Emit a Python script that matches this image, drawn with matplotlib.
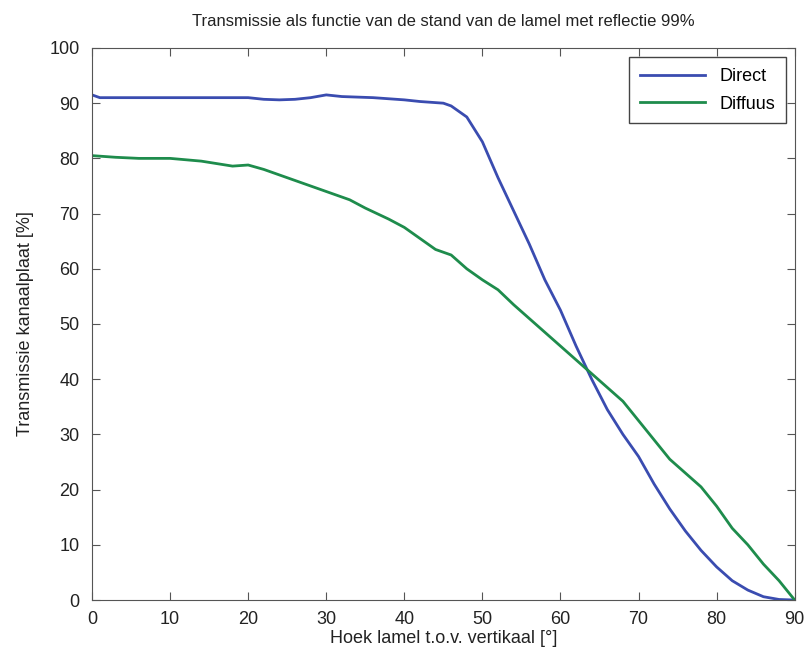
import matplotlib
matplotlib.use("Agg")
import matplotlib.pyplot as plt
import numpy as np

plt.rcParams['font.family'] = ['Liberation Sans', 'DejaVu Sans']

# hoek lamel [graden]
hoek_direct = [0, 1, 5, 10, 15, 20, 22, 24, 26, 28, 30, 32, 34, 36, 38, 40, 42, 44, 45, 46,
               48, 50, 52, 54, 56, 58, 60, 62, 64, 66, 68, 70, 72, 74, 76, 78, 80, 82, 84,
               86, 88, 90]
direct = [91.5, 91.0, 91.0, 91.0, 91.0, 91.0, 90.7, 90.6, 90.7, 91.0, 91.5, 91.2, 91.1, 91.0,
          90.8, 90.6, 90.3, 90.1, 90.0, 89.5, 87.5, 83.0, 76.5, 70.5, 64.5, 58.0, 52.5, 46.0,
          40.0, 34.5, 30.0, 26.0, 21.0, 16.5, 12.5, 9.0, 6.0, 3.5, 1.8, 0.6, 0.1, 0.0]

hoek_diffuus = [0, 3, 6, 10, 14, 18, 20, 22, 25, 28, 30, 33, 35, 38, 40, 42, 44, 46, 48, 50,
                52, 54, 56, 58, 60, 62, 64, 66, 68, 70, 72, 74, 76, 78, 80, 82, 84, 86, 88, 90]
diffuus = [80.5, 80.2, 80.0, 80.0, 79.5, 78.6, 78.8, 78.0, 76.5, 75.0, 74.0, 72.5, 71.0, 69.0,
           67.5, 65.5, 63.5, 62.5, 60.0, 58.0, 56.2, 53.5, 51.0, 48.5, 46.0, 43.5, 41.0, 38.5,
           36.0, 32.5, 29.0, 25.5, 23.0, 20.5, 17.0, 13.0, 10.0, 6.5, 3.5, 0.0]

fig = plt.figure(figsize=(8.1, 6.58), dpi=100)
ax = fig.add_axes([0.1136, 0.0881, 0.8675, 0.8390])

ax.plot(hoek_direct, direct, color='#3a4cb0', lw=2.0, label='Direct')
ax.plot(hoek_diffuus, diffuus, color='#1e8c4c', lw=2.0, label='Diffuus')

ax.set_xlim(0, 90)
ax.set_ylim(0, 100)
ax.set_xticks(np.arange(0, 91, 10))
ax.set_yticks(np.arange(0, 101, 10))
ax.tick_params(direction='in', top=True, right=True, length=6, labelsize=13,
               color='#555555', labelcolor='#222222')
ax.tick_params(axis='x', pad=8)
ax.tick_params(axis='y', pad=9)
for s in ax.spines.values():
    s.set_color('#555555')

ax.set_xlabel('Hoek lamel t.o.v. vertikaal [°]', fontsize=13, color='#222222', labelpad=1)
ax.set_ylabel('Transmissie kanaalplaat [%]', fontsize=13, color='#222222', labelpad=11)
ax.set_title('Transmissie als functie van de stand van de lamel met reflectie 99%',
             fontsize=12, color='#222222', pad=16)

leg = ax.legend(loc='upper right', fontsize=13, fancybox=False, framealpha=1,
                edgecolor='#444444', borderaxespad=0.5, handlelength=3.6,
                borderpad=0.6, labelspacing=0.6)
leg.get_frame().set_linewidth(1.0)

fig.savefig('out.png', dpi=100)
